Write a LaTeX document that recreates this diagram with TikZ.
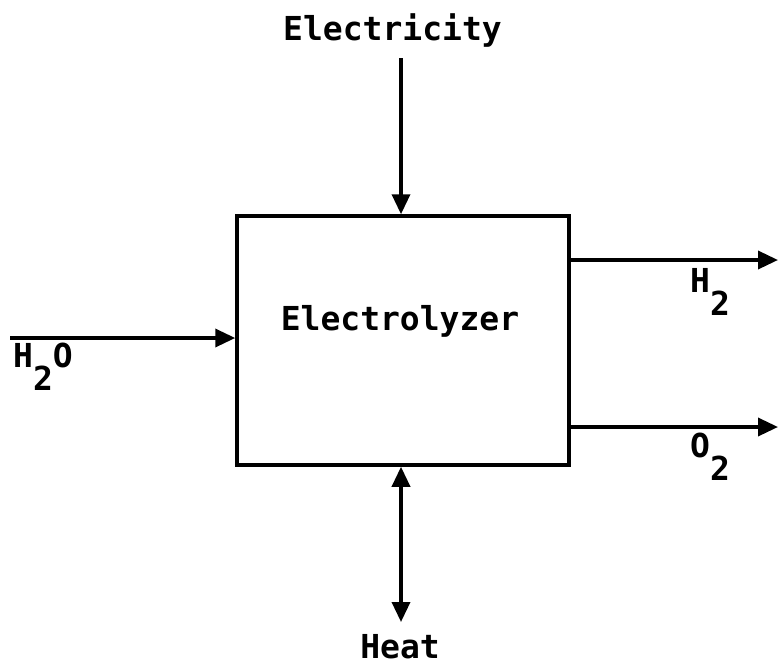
\documentclass[tikz,border=0pt]{standalone}
\usepackage{fontspec}
\usetikzlibrary{arrows.meta,positioning}
\newfontfamily\typefont{DejaVu Sans Mono}
\newcommand{\lowr}[1]{\raisebox{-23pt}{#1}}

\begin{document}
\begin{tikzpicture}[x=1pt,y=-1pt,
  tip/.tip={Triangle[length=20pt,width=18pt]},
  flow/.style={line width=3.5pt,-tip},
  block/.style={draw,line width=3.5pt,minimum width=332pt,minimum height=249pt,inner sep=0pt},
  lbl/.style={font=\typefont\bfseries\fontsize{33}{33}\selectfont,inner sep=0pt}]
\useasboundingbox (0,0) rectangle (779,665);
\node[block] (ely) at (403,340.5) {};
\node[lbl,anchor=base] (elytext) at (400,330) {Electrolyzer};
% inputs
\node[lbl,anchor=base] (elec) at (392.5,40) {Electricity};
\coordinate (etop) at (401,58);
\draw[flow] (etop) -- (etop |- ely.north);
\coordinate (win) at (10,338);
\draw[flow] (win) -- (win -| ely.west);
\node[lbl,anchor=base west] (water) at (13,367) {H\lowr{2}O};
% outputs
\coordinate (hout) at (778,260);
\draw[flow] (hout -| ely.east) -- (hout);
\node[lbl,anchor=base west] (hyd) at (690,292) {H\lowr{2}};
\coordinate (oout) at (778,427);
\draw[flow] (oout -| ely.east) -- (oout);
\node[lbl,anchor=base west] (oxy) at (690,457) {O\lowr{2}};
% heat both ways
\coordinate (hbot) at (401,622);
\draw[flow,tip-tip] (hbot |- ely.south) -- (hbot);
\node[lbl,anchor=base] (heat) at (400,658) {Heat};
\end{tikzpicture}
\end{document}
